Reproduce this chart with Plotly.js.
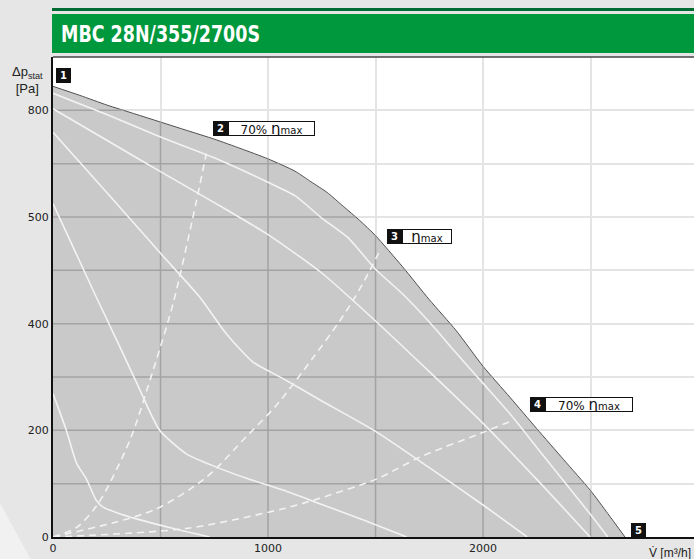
<!DOCTYPE html>
<html><head><meta charset="utf-8">
<script src="https://cdn.plot.ly/plotly-3.0.1.min.js"></script>
<style>html,body{margin:0;padding:0;background:#e6e6e6;overflow:hidden}#chart{width:694px;height:559px}</style>
</head><body><div id="chart"></div>
<script>
// ---- data ----
const chartTitle = 'MBC 28N/355/2700S';
// outer fan curve (envelope), V [m3/h] vs dp [Pa]
const envX = [0, 125, 250, 375, 500, 625, 750, 875, 1000, 1125, 1200, 1275, 1350, 1425, 1500, 1625, 1750, 1875, 2000, 2125, 2250, 2375, 2500, 2580, 2660];
const envY = [845, 828, 810, 794, 778, 762, 746, 728, 709, 686, 666, 646, 620, 594, 565, 507, 445, 387, 320, 262, 203, 145, 87, 44, 0];
// white speed curves
const spd1X = [0, 250, 500, 750, 1000, 1125, 1250, 1375, 1500, 1625, 1750, 1875, 2000, 2125, 2250, 2375, 2500, 2580];
const spd1Y = [832, 792, 750, 711, 665, 640, 598, 560, 502, 456, 403, 345, 288, 231, 168, 105, 42, 0];
const spd2X = [0, 250, 500, 750, 1000, 1250, 1500, 1750, 2000, 2250, 2498];
const spd2Y = [803, 744, 685, 627, 567, 495, 405, 310, 213, 108, 0];
const spd3X = [0, 250, 500, 682, 806, 930, 1070, 1250, 1500, 1750, 2000, 2205];
const spd3Y = [759, 646, 532, 450, 381, 328, 297, 255, 198, 130, 60, 0];
const spd4X = [0, 100, 201, 300, 388, 496, 620, 760, 900, 1070, 1250, 1450, 1645];
const spd4Y = [625, 538, 450, 366, 290, 200, 156, 131, 110, 88, 61, 31, 0];
const spd5X = [0, 30, 62, 110, 155, 201, 233, 300, 388, 550, 729];
const spd5Y = [269, 236, 200, 138, 109, 69, 56, 45, 34, 17, 0];
// dashed system curves
const sys1X = [0, 110, 209, 357, 465, 558, 651, 713];
const sys1Y = [0, 18, 62, 181, 312, 437, 600, 719];
const sys2X = [0, 465, 713, 899, 1039, 1211, 1335, 1405, 1466, 1521];
const sys2Y = [0, 50, 112, 188, 247, 337, 406, 450, 494, 538];
const sys3X = [0, 620, 1070, 1211, 1506, 1707, 1986, 2141];
const sys3Y = [0, 16, 53, 69, 109, 150, 194, 219];
// axes
const xTickVals = [0, 500, 1000, 1500, 2000, 2500];
const xTickText = ['0', ' ', '1000', ' ', '2000', ' '];
const yTickVals = [0, 100, 200, 300, 400, 500, 600, 700, 800, 900];
const yTickText = ['0', ' ', '200', ' ', '400', ' ', '500', ' ', '800', ' '];
// operating point labels
const pointNums = ['1', '2', '3', '4', '5'];
const etaMax = '<span style="font-size:15px">η</span><span style="font-size:10px">max</span>';
const pointTexts = [null, '70% ' + etaMax, etaMax, '70% ' + etaMax, null];

// ---- helpers ----
function xAtY(xs, ys, yv) {
  for (let i = 0; i < xs.length - 1; i++) {
    if (ys[i] >= yv && ys[i + 1] <= yv) {
      const t = (ys[i] - yv) / (ys[i] - ys[i + 1]);
      return xs[i] + t * (xs[i + 1] - xs[i]);
    }
  }
  return null;
}
function yAtX(xs, ys, xv) {
  for (let i = 0; i < xs.length - 1; i++) {
    if (xs[i] <= xv && xs[i + 1] >= xv) {
      const t = (xv - xs[i]) / (xs[i + 1] - xs[i]);
      return ys[i] + t * (ys[i + 1] - ys[i]);
    }
  }
  return null;
}

// pixel helpers for layout decorations
const L = 53, T = 57, PW = 641, PH = 480;
const px = v => (v - L) / PW;
const py = v => (T + PH - v) / PH;

// gridline pieces inside the filled area
const gX = [], gY = [];
yTickVals.forEach(v => {
  if (v <= 0) return;
  const xe = xAtY(envX, envY, v);
  if (xe !== null) { gX.push(0, xe, null); gY.push(v, v, null); }
});
xTickVals.forEach(v => {
  if (v <= 0) return;
  const ye = yAtX(envX, envY, v);
  if (ye !== null) { gX.push(v, v, null); gY.push(0, ye, null); }
});

const white = '#f3f3f3';
const traces = [
  {x: envX, y: envY, type: 'scatter', mode: 'lines', fill: 'tozeroy', fillcolor: '#c9c9c9',
   line: {color: '#505050', width: 1, shape: 'spline', smoothing: 0.6}},
  {x: gX, y: gY, type: 'scatter', mode: 'lines', line: {color: '#a3a3a3', width: 1.5}},
  ...[[spd1X, spd1Y], [spd2X, spd2Y], [spd3X, spd3Y], [spd4X, spd4Y], [spd5X, spd5Y]].map(([x, y]) => ({
    x, y, type: 'scatter', mode: 'lines', line: {color: white, width: 1.6, shape: 'spline', smoothing: 0.6}})),
  ...[[sys1X, sys1Y], [sys2X, sys2Y], [sys3X, sys3Y]].map(([x, y]) => ({
    x, y, type: 'scatter', mode: 'lines', line: {color: white, width: 1.6, dash: '7px,5px', shape: 'spline', smoothing: 0.8}})),
];

// label placements (pixel coords of the black number boxes: left, top)
const boxPos = [[56, 68], [213, 121], [387, 229], [530, 397], [631, 523]];
const textW = [0, 87, 50, 88, 0];

const annotations = [];
pointNums.forEach((n, i) => {
  const [bx, by] = boxPos[i];
  annotations.push({xref: 'paper', yref: 'paper', x: px(bx), y: py(by), xanchor: 'left', yanchor: 'top',
    text: '<b>' + n + '</b>', showarrow: false, bgcolor: '#111', borderpad: 1, borderwidth: 0, width: 13, height: 13,
    font: {family: 'DejaVu Sans', size: 10, color: '#fff'}});
  if (pointTexts[i]) {
    annotations.push({xref: 'paper', yref: 'paper', x: px(bx + 15), y: py(by), xanchor: 'left', yanchor: 'top',
      text: pointTexts[i], showarrow: false, bgcolor: '#fff', bordercolor: '#111', borderwidth: 1, borderpad: 0,
      width: textW[i] - 2, height: 13, align: 'center',
      font: {family: 'DejaVu Sans', size: 12, color: '#111'}});
  }
});
annotations.push({xref: 'paper', yref: 'paper', x: px(160.5), y: py(34), xanchor: 'center', yanchor: 'middle',
  text: '<b>' + chartTitle + '</b>', showarrow: false, name: 'maintitle',
  font: {family: 'DejaVu Sans', size: 23, color: '#fff'}});
annotations.push({xref: 'paper', yref: 'paper', x: px(27), y: py(62), xanchor: 'center', yanchor: 'top',
  text: 'Δp<sub>stat</sub><br>[Pa]', showarrow: false, align: 'center',
  font: {family: 'Liberation Sans, Arial, sans-serif', size: 13, color: '#222'}});
annotations.push({xref: 'paper', yref: 'paper', x: px(693), y: py(544), xanchor: 'right', yanchor: 'top',
  text: 'V\u0307 [m³/h]', showarrow: false,
  font: {family: 'Liberation Sans, Arial, sans-serif', size: 12, color: '#222'}});

const shapes = [
  {type: 'rect', xref: 'paper', yref: 'paper', x0: px(52), x1: px(700), y0: py(8), y1: py(11), fillcolor: '#006b33', line: {width: 0}, layer: 'above'},
  {type: 'rect', xref: 'paper', yref: 'paper', x0: px(52), x1: px(700), y0: py(14), y1: py(53), fillcolor: '#00983d', line: {width: 0}, layer: 'above'},
  {type: 'line', xref: 'paper', yref: 'paper', x0: 0, x1: px(700), y0: 1, y1: 1, line: {color: '#444', width: 1.5}, layer: 'above'},
  {type: 'path', xref: 'paper', yref: 'paper', path: `M ${px(0)} ${py(503)} L ${px(31)} ${py(560)} L ${px(0)} ${py(560)} Z`,
   fillcolor: '#f1f1f1', line: {width: 0}, layer: 'below'},
];

const layout = {
  width: 694, height: 559,
  margin: {l: L, r: 0, t: T, b: 559 - T - PH, pad: 0},
  paper_bgcolor: '#e6e6e6', plot_bgcolor: '#ffffff',
  showlegend: false,
  xaxis: {range: [0, 2981], tickvals: xTickVals, ticktext: xTickText, showgrid: true, gridcolor: '#e4e4e4', gridwidth: 2,
    zeroline: false, showline: true, linecolor: '#111', linewidth: 2, ticks: '',
    tickfont: {family: 'DejaVu Sans', size: 11, color: '#222'}},
  yaxis: {range: [0, 900], tickvals: yTickVals, ticktext: yTickText, showgrid: true, gridcolor: '#e4e4e4', gridwidth: 2,
    zeroline: false, showline: true, linecolor: '#111', linewidth: 2, ticks: '',
    tickfont: {family: 'DejaVu Sans', size: 11, color: '#222'}},
  annotations, shapes
};

Plotly.newPlot('chart', traces, layout, {staticPlot: true, displayModeBar: false}).then(gd => {
  // condense the title text to the narrow width of the reference heading
  gd.querySelectorAll('.annotation-text').forEach(t => {
    if (t.textContent === chartTitle) {
      t.setAttribute('textLength', '199');
      t.setAttribute('lengthAdjust', 'spacingAndGlyphs');
      const r = t.getBoundingClientRect();
      const host = gd.getBoundingClientRect();
      const dx = 61 - (r.left - host.left);
      t.setAttribute('x', String(parseFloat(t.getAttribute('x') || 0) + dx));
    }
  });
});
</script></body></html>
